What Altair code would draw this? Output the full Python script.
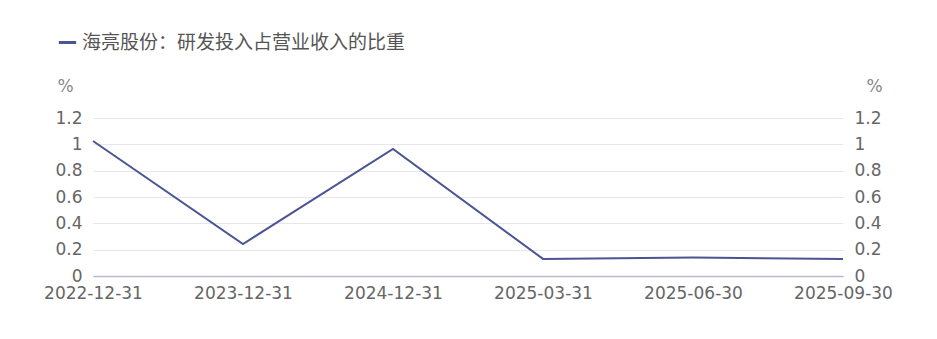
import altair as alt
import pandas as pd

dates = ["2022-12-31", "2023-12-31", "2024-12-31", "2025-03-31", "2025-06-30", "2025-09-30"]
values = [1.025, 0.243, 0.965, 0.13, 0.14, 0.13]
series_name = "海亮股份：研发投入占营业收入的比重"

df = pd.DataFrame({"date": dates, "value": values, "series": [series_name] * len(dates)})

FONT = "Noto Sans CJK SC"
NUM_FONT = "DejaVu Sans"
LINE_COLOR = "#4b5591"
FS = 17

x = alt.X("date:N", sort=dates, title=None,
          scale=alt.Scale(type="point", padding=0),
          axis=alt.Axis(labelAngle=0, labelFontSize=FS, labelColor="#666666", labelFont=NUM_FONT,
                        labelPadding=9, ticks=False, domainColor="#b8b8cc", domainWidth=1.5,
                        labelOverlap=False, labelFlush=False, grid=False))

yscale = alt.Scale(domain=[0, 1.2], nice=False)

def yaxis(orient, tx):
    return alt.Axis(orient=orient, values=[0, 0.2, 0.4, 0.6, 0.8, 1.0, 1.2], labelExpr="format(datum.value, '~g')",
                    labelFontSize=FS, labelColor="#666666", labelFont=NUM_FONT, labelPadding=11,
                    ticks=False, domain=False, grid=(orient == "left"), gridColor="#e6e6f0",
                    title="%", titleAngle=0, titleFontSize=FS, titleFont=NUM_FONT, titleFontWeight="normal",
                    titleColor="#888888", titleX=tx, titleY=-23, titleAlign="center")

left = alt.Chart(df).mark_line(strokeWidth=2).encode(
    x=x,
    y=alt.Y("value:Q", scale=yscale, axis=yaxis("left", -28)),
    color=alt.Color("series:N", scale=alt.Scale(range=[LINE_COLOR]),
                    legend=alt.Legend(title=None, orient="none", legendX=-36, legendY=-86,
                                      symbolType="stroke", symbolStrokeWidth=3, symbolSize=300,
                                      labelFontSize=19, labelColor="#555555", labelFont=FONT,
                                      labelLimit=500)),
)

right = alt.Chart(df).mark_line(strokeWidth=0, opacity=0).encode(
    x=x,
    y=alt.Y("value:Q", scale=yscale, axis=yaxis("right", 31)),
)

chart = alt.layer(left, right).resolve_axis(y="independent").properties(
    width=750, height=158,
    background="white",
    autosize=alt.AutoSizeParams(type="none"),
    padding={"left": 93, "top": 118, "right": 94, "bottom": 63},
).configure_view(stroke=None)

chart.save("out.html", embed_options={"renderer": "svg", "actions": False})
